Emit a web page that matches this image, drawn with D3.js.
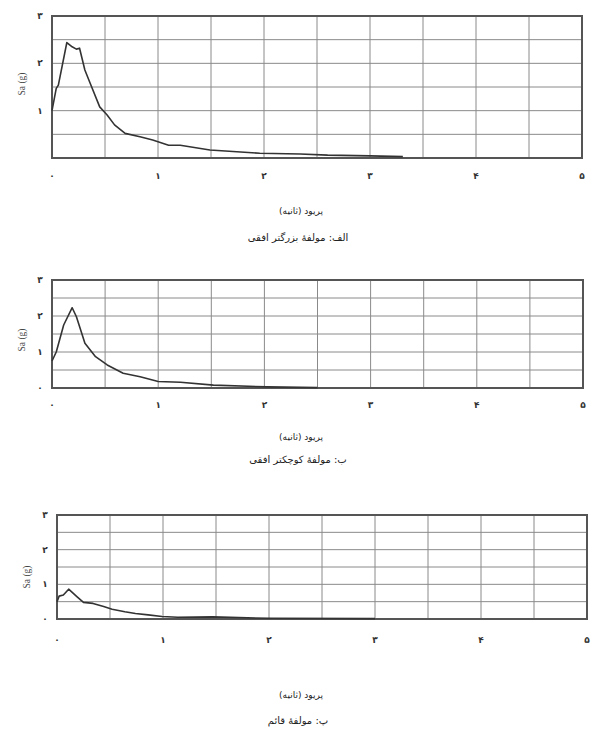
<!DOCTYPE html>
<html>
<head>
<meta charset="utf-8">
<script src="https://cdn.jsdelivr.net/npm/d3@7"></script>
<style>
  body { margin: 0; background: #fff; }
  .tick-lbl { font-family: "DejaVu Sans", sans-serif; font-size: 9px; fill: #333; font-weight: bold; }
  .fa { font-family: "DejaVu Sans", sans-serif; fill: #222; }
  .ylab { font-family: "Liberation Serif", serif; font-size: 9.5px; fill: #444; }
</style>
</head>
<body>
<svg id="chart"></svg>
<script>
// tick labels (Persian digits)
const xTickLabels = ["۰", "۱", "۲", "۳", "۴", "۵"];
const yTickLabels = ["۰", "۱", "۲", "۳"];
const xLabel = "پریود (ثانیه)";
const yLabel = "Sa (g)";

// panel a: larger horizontal component
const periodA = [0, 0.04, 0.06, 0.14, 0.19, 0.23, 0.26, 0.31, 0.36, 0.45, 0.52, 0.59, 0.69, 0.83, 0.95, 1.10, 1.21, 1.49, 1.96, 2.34, 2.6, 3.0, 3.31];
const saA = [1.0, 1.47, 1.54, 2.44, 2.35, 2.30, 2.32, 1.86, 1.58, 1.08, 0.91, 0.70, 0.52, 0.45, 0.38, 0.27, 0.27, 0.17, 0.10, 0.085, 0.06, 0.045, 0.03];

// panel b: smaller horizontal component
const periodB = [0, 0.04, 0.11, 0.19, 0.23, 0.31, 0.41, 0.52, 0.67, 0.83, 1.0, 1.21, 1.52, 2.03, 2.5];
const saB = [0.75, 1.0, 1.75, 2.23, 1.98, 1.24, 0.87, 0.64, 0.41, 0.31, 0.18, 0.16, 0.08, 0.03, 0.01];

// panel c: vertical component
const periodC = [0, 0.02, 0.06, 0.11, 0.19, 0.25, 0.34, 0.44, 0.52, 0.64, 0.74, 0.86, 0.99, 1.14, 1.47, 2.0, 3.0];
const saC = [0.5, 0.66, 0.69, 0.86, 0.64, 0.48, 0.45, 0.36, 0.28, 0.21, 0.16, 0.12, 0.07, 0.05, 0.06, 0.02, 0.01];

const captions = ["الف: مولفهٔ بزرگتر افقی", "ب: مولفهٔ کوچکتر افقی", "پ: مولفهٔ قائم"];

const svg = d3.select("#chart").attr("width", 592).attr("height", 734);

const panels = [
    { period: periodA, sa: saA, box: { left: 52, right: 582, top: 16, bottom: 158 }, showZeroY: false, xlabY: 179, titleY: 214, capY: 241, ylabY: 84 },
    { period: periodB, sa: saB, box: { left: 52, right: 583, top: 280, bottom: 388 }, showZeroY: true, xlabY: 408, titleY: 440, capY: 463, ylabY: 340 },
    { period: periodC, sa: saC, box: { left: 57, right: 587, top: 515, bottom: 619 }, showZeroY: true, xlabY: 643, titleY: 698, capY: 724, ylabY: 577 }
];

panels.forEach((p, i) => {
    const b = p.box;
    const x = d3.scaleLinear().domain([0, 5]).range([b.left, b.right]);
    const y = d3.scaleLinear().domain([0, 3]).range([b.bottom, b.top]);
    const g = svg.append("g");

    // grid every 0.5
    g.append("g").selectAll("line.v")
        .data(d3.range(0.5, 5, 0.5))
        .join("line")
        .attr("x1", d => x(d)).attr("x2", d => x(d))
        .attr("y1", b.top).attr("y2", b.bottom)
        .attr("stroke", "#8a8a8a").attr("stroke-width", 1);

    g.append("g").selectAll("line.h")
        .data(d3.range(0.5, 3, 0.5))
        .join("line")
        .attr("x1", b.left).attr("x2", b.right)
        .attr("y1", d => y(d)).attr("y2", d => y(d))
        .attr("stroke", "#8a8a8a").attr("stroke-width", 1);

    // frame
    g.append("rect")
        .attr("x", b.left).attr("y", b.top)
        .attr("width", b.right - b.left).attr("height", b.bottom - b.top)
        .attr("fill", "none").attr("stroke", "#555").attr("stroke-width", 2);

    // curve
    const line = d3.line().x(d => x(d[0])).y(d => y(d[1]));
    g.append("path")
        .datum(d3.zip(p.period, p.sa))
        .attr("d", line)
        .attr("fill", "none").attr("stroke", "#333").attr("stroke-width", 1.6)
        .attr("stroke-linejoin", "round");

    // x tick labels
    g.append("g").selectAll("text")
        .data(xTickLabels)
        .join("text")
        .attr("class", "tick-lbl")
        .attr("x", (d, k) => x(k))
        .attr("y", p.xlabY)
        .attr("text-anchor", "middle")
        .text(d => d);

    // y tick labels
    g.append("g").selectAll("text")
        .data(yTickLabels.map((t, k) => [t, k]).filter(d => p.showZeroY || d[1] > 0))
        .join("text")
        .attr("class", "tick-lbl")
        .attr("x", b.left - 12)
        .attr("y", d => y(d[1]) + 3)
        .attr("text-anchor", "middle")
        .text(d => d[0]);

    // y axis title
    g.append("text")
        .attr("class", "ylab")
        .attr("transform", `translate(${b.left - 27},${p.ylabY}) rotate(-90)`)
        .attr("text-anchor", "middle")
        .text(yLabel);

    // x axis title and caption
    g.append("text")
        .attr("class", "fa")
        .attr("font-size", 9)
        .attr("x", 301).attr("y", p.titleY)
        .attr("text-anchor", "middle")
        .attr("direction", "rtl")
        .text(xLabel);

    g.append("text")
        .attr("class", "fa")
        .attr("font-size", 10)
        .attr("x", 298).attr("y", p.capY)
        .attr("text-anchor", "middle")
        .attr("direction", "rtl")
        .text(captions[i]);
});
</script>
</body>
</html>
